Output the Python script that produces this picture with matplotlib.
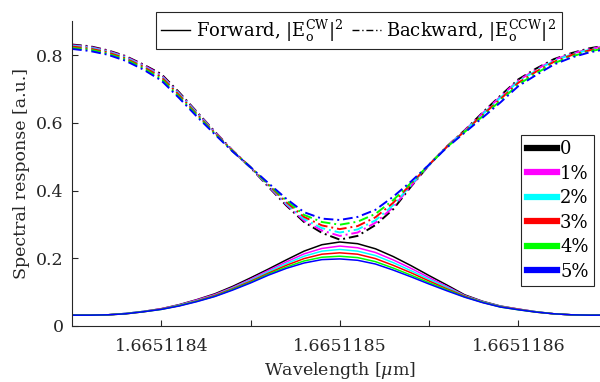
import matplotlib
matplotlib.use("Agg")
import matplotlib.pyplot as plt
from matplotlib.lines import Line2D

plt.rcParams["font.family"] = "DejaVu Serif"
plt.rcParams["mathtext.fontset"] = "dejavuserif"

# wavelength samples [um]
wavelength_um = [
    1.66511835, 1.66511836, 1.66511837, 1.66511838, 1.66511839, 1.66511840,
    1.66511841, 1.66511842, 1.66511843, 1.66511844, 1.66511845, 1.66511846,
    1.66511847, 1.66511848, 1.66511849, 1.66511850, 1.66511851, 1.66511852,
    1.66511853, 1.66511854, 1.66511855, 1.66511856, 1.66511857, 1.66511858,
    1.66511859, 1.66511860, 1.66511861, 1.66511862, 1.66511863, 1.66511864,
    1.66511865,
]

levels = ["0", "1%", "2%", "3%", "4%", "5%"]
colors = ["#000000", "#FF00FF", "#00FFFF", "#FF0000", "#00FF00", "#0000FF"]

# forward, |E_o^CW|^2
fwd_0 = [.032, .032, .033, .037, .043, .051, .063, .078, .095, .117, .142, .168,
         .195, .221, .240, .248, .243, .228, .205, .178, .149, .121, .092, .073,
         .059, .050, .042, .036, .033, .032, .032]
fwd_1 = [.032, .032, .033, .037, .043, .051, .062, .077, .093, .114, .138, .164,
         .189, .213, .229, .236, .231, .217, .195, .170, .143, .117, .090, .072,
         .058, .050, .042, .036, .033, .032, .032]
fwd_2 = [.032, .032, .033, .037, .043, .050, .061, .075, .091, .112, .135, .160,
         .184, .206, .221, .226, .221, .208, .187, .163, .138, .114, .089, .071,
         .058, .049, .042, .036, .033, .032, .032]
fwd_3 = [.032, .032, .033, .036, .042, .050, .060, .074, .090, .110, .132, .156,
         .179, .199, .212, .216, .212, .199, .179, .157, .133, .110, .088, .070,
         .057, .049, .041, .036, .033, .032, .032]
fwd_4 = [.032, .032, .033, .036, .042, .049, .060, .073, .088, .108, .129, .153,
         .174, .192, .203, .206, .202, .190, .171, .150, .128, .107, .086, .070,
         .056, .048, .041, .036, .033, .032, .032]
fwd_5 = [.032, .032, .033, .036, .042, .049, .059, .072, .087, .106, .127, .150,
         .170, .186, .196, .198, .194, .183, .165, .145, .124, .104, .085, .069,
         .056, .048, .041, .036, .033, .032, .032]

# backward, |E_o^CCW|^2
bwd_0 = [.831, .826, .814, .797, .772, .744, .690, .632, .574, .518, .468, .411,
         .356, .307, .275, .255, .266, .298, .345, .412, .475, .530, .578, .630,
         .680, .728, .760, .788, .806, .820, .829]
bwd_1 = [.829, .824, .812, .795, .770, .741, .687, .630, .573, .518, .468, .413,
         .359, .311, .282, .266, .276, .305, .351, .414, .475, .530, .577, .628,
         .677, .725, .757, .786, .804, .818, .827]
bwd_2 = [.827, .822, .810, .793, .767, .738, .685, .628, .571, .517, .468, .415,
         .362, .316, .289, .276, .285, .312, .357, .417, .475, .529, .576, .625,
         .674, .722, .754, .783, .802, .816, .825]
bwd_3 = [.825, .819, .808, .790, .765, .735, .682, .625, .570, .517, .469, .417,
         .366, .322, .297, .286, .295, .321, .364, .420, .476, .529, .575, .623,
         .670, .718, .751, .780, .800, .814, .824]
bwd_4 = [.821, .816, .804, .787, .761, .730, .677, .622, .568, .516, .469, .419,
         .371, .328, .307, .299, .308, .331, .372, .423, .476, .528, .573, .619,
         .665, .713, .746, .776, .796, .811, .821]
bwd_5 = [.818, .812, .801, .783, .757, .725, .673, .618, .566, .515, .469, .422,
         .376, .336, .317, .313, .322, .343, .382, .427, .476, .527, .571, .615,
         .660, .708, .741, .772, .793, .808, .818]

forward = [fwd_0, fwd_1, fwd_2, fwd_3, fwd_4, fwd_5]
backward = [bwd_0, bwd_1, bwd_2, bwd_3, bwd_4, bwd_5]

xticks = [1.6651184, 1.66511845, 1.6651185, 1.66511855, 1.6651186]
xtick_labels = ["1.6651184", "", "1.6651185", "", "1.6651186"]
yticks = [0, 0.2, 0.4, 0.6, 0.8]
ytick_labels = ["0", "0.2", "0.4", "0.6", "0.8"]

axis_color = "#262626"

fig = plt.figure(figsize=(6, 3.82), dpi=100)
ax = fig.add_axes([0.12, 0.1466, 0.8925, 0.798])

color_handles = []
for fwd, bwd, c, lab in zip(forward, backward, colors, levels):
    ax.plot(wavelength_um, bwd, color=c, lw=1.4, linestyle=(0, (5, 2, 1, 2)))
    ax.plot(wavelength_um, fwd, color=c, lw=1.1)
    color_handles.append(Line2D([], [], color=c, lw=4.5, label=lab))

ax.set_xlim(1.66511835, 1.66511865)
ax.set_ylim(0, 0.9)
ax.set_xticks(xticks)
ax.set_xticklabels(xtick_labels)
ax.set_yticks(yticks)
ax.set_yticklabels(ytick_labels)

for side in ("top", "right"):
    ax.spines[side].set_visible(False)
for side in ("left", "bottom"):
    ax.spines[side].set_color(axis_color)
    ax.spines[side].set_linewidth(0.8)
ax.tick_params(direction="in", length=4, width=0.8, colors=axis_color,
               labelsize=12.5)
ax.tick_params(axis="x", pad=9)
ax.tick_params(axis="y", pad=6)
ax.set_xlabel(r"Wavelength [$\mu$m]", fontsize=12.5, color=axis_color, labelpad=3)
ax.set_ylabel("Spectral response [a.u.]", fontsize=12.5, color=axis_color, labelpad=4)

leg_colors = ax.legend(handles=color_handles, loc="lower right",
                       bbox_to_anchor=(0.975, 0.131), fontsize=13,
                       fancybox=False, framealpha=1, edgecolor=axis_color,
                       handlelength=1.7, handletextpad=0.15, labelspacing=0.36,
                       borderpad=0.3, borderaxespad=0)
leg_colors.get_frame().set_linewidth(0.8)
ax.add_artist(leg_colors)

style_handles = [
    Line2D([], [], color="black", lw=1.0),
    Line2D([], [], color="black", lw=1.0, linestyle=(0, (5, 2, 1, 2))),
]
style_labels = [
    r"Forward, $|\mathrm{E}_{\mathrm{o}}^{\mathrm{CW}}|^2$",
    r"Backward, $|\mathrm{E}_{\mathrm{o}}^{\mathrm{CCW}}|^2$",
]
leg_style = ax.legend(style_handles, style_labels, loc="center",
                      bbox_to_anchor=(0.598, 0.920), bbox_transform=fig.transFigure,
                      ncol=2, fontsize=13, fancybox=False, framealpha=1,
                      edgecolor=axis_color, handlelength=1.6, handletextpad=0.3,
                      columnspacing=0.5, borderpad=0.3)
leg_style.get_frame().set_linewidth(0.8)

fig.savefig("out.png", dpi=100)
